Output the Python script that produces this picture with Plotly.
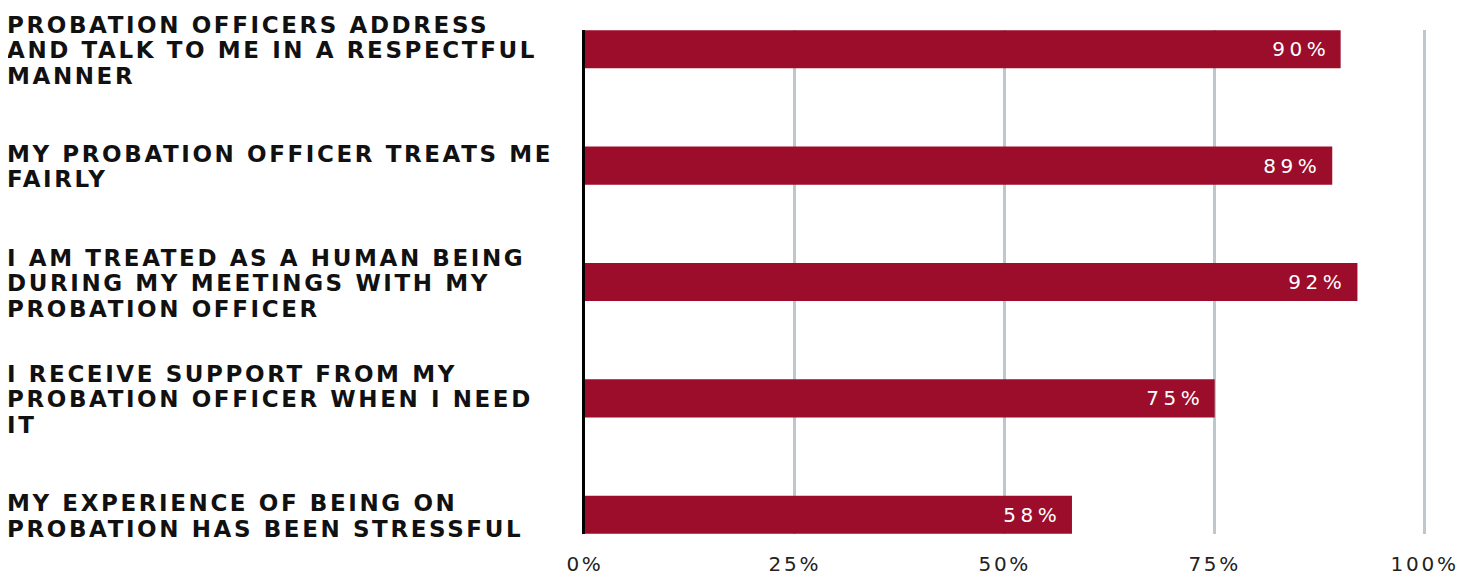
import plotly.graph_objects as go

categories = [
    "PROBATION OFFICERS ADDRESS<br>AND TALK TO ME IN A RESPECTFUL<br>MANNER",
    "MY PROBATION OFFICER TREATS ME<br>FAIRLY",
    "I AM TREATED AS A HUMAN BEING<br>DURING MY MEETINGS WITH MY<br>PROBATION OFFICER",
    "I RECEIVE SUPPORT FROM MY<br>PROBATION OFFICER WHEN I NEED<br>IT",
    "MY EXPERIENCE OF BEING ON<br>PROBATION HAS BEEN STRESSFUL",
]
values = [90, 89, 92, 75, 58]
tick_values = [0, 25, 50, 75, 100]
tick_labels = ["0%", "25%", "50%", "75%", "100%"]

BAR = "#9B0D2B"
GRID = "#BDC7CD"

# layout constants (page has an 8px body margin)
W, H = 1457, 569
L, R, T, B = 577, 32, 22, 43
XMAX = 101
plot_w = W - L - R
LINE_PITCH = 25.5

fig = go.Figure()
fig.add_trace(go.Bar(
    x=values,
    y=list(range(len(categories))),
    orientation="h",
    width=0.327,
    marker=dict(color=BAR, line=dict(width=0)),
    hoverinfo="skip",
))

annotations = []
label_x = (-3 - L) / plot_w
for i, (cat, v) in enumerate(zip(categories, values)):
    lines = cat.split("<br>")
    n = len(lines)
    for k, line in enumerate(lines):
        annotations.append(dict(
            x=label_x, xref="paper", y=i, yref="y",
            text=line, showarrow=False, xanchor="left", yanchor="middle", align="left",
            yshift=-(k - (n - 1) / 2) * LINE_PITCH - 1,
            font=dict(family="DejaVu Sans", size=23, color="#111111", weight="bold"),
            name="cat",
        ))
    annotations.append(dict(
        x=v, xref="x", y=i, yref="y",
        text=f"{v}%", showarrow=False, xanchor="right", yanchor="middle",
        xshift=-16,
        font=dict(family="DejaVu Sans", size=20, color="white"),
        name="val",
    ))

fig.update_layout(
    width=W, height=H,
    margin=dict(l=L, r=R, t=T, b=B, pad=0),
    paper_bgcolor="white", plot_bgcolor="white",
    showlegend=False,
    annotations=annotations,
    xaxis=dict(
        range=[0, XMAX],
        tickvals=tick_values, ticktext=tick_labels,
        showgrid=True, gridcolor=GRID, gridwidth=3,
        zeroline=False, showline=False,
        ticks="", ticklabelstandoff=16, automargin=False,
        tickfont=dict(family="DejaVu Sans", size=20, color="#222222"),
    ),
    yaxis=dict(
        range=[4.165, -0.165],
        showticklabels=False, showgrid=False, zeroline=False,
        showline=True, linecolor="#000000", linewidth=2.5,
        ticks="", automargin=False,
    ),
)

post_script = """
var gd = document.getElementById('{plot_id}');
gd.querySelectorAll('.annotation').forEach(function(a){
  var t = a.querySelector('.annotation-text');
  if (!t) return;
  var fs = parseFloat(t.style.fontSize || '0');
  t.style.letterSpacing = (fs > 21) ? '2.6px' : '4.5px';
});
gd.querySelectorAll('.xtick text').forEach(function(t){ t.style.letterSpacing = '2.7px'; });
"""

fig.write_html("out.html", post_script=post_script)
